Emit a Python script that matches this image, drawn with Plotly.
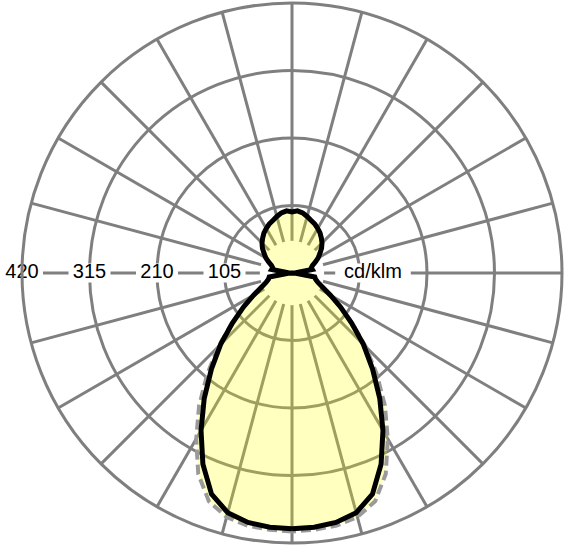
import numpy as np
import plotly.graph_objects as go

# Angles measured from nadir (0 = straight down) for one half of the curve
angles = list(range(0, 185, 5))

# C0-C180 plane (solid black), cd/klm
c0_values = [398, 397, 394, 386, 366, 328, 283, 238, 195, 157, 121, 92, 69, 53, 43, 38, 36, 6, 0,
             6, 32, 31, 34, 40, 47, 53, 60, 66, 71, 76, 80, 84, 87, 91, 95, 97, 95]

# C90-C270 plane (dashed grey), cd/klm
c90_values = [402, 401, 399, 393, 378, 345, 298, 252, 205, 162, 123, 92, 69, 53, 43, 38, 36, 6, 0,
              6, 32, 31, 34, 40, 47, 53, 60, 66, 71, 76, 80, 84, 87, 91, 95, 97, 95]

radial_ticks = [105, 210, 315, 420]
radial_labels = ["105", "210", "315", "420"]
unit_label = "cd/klm"
unit_r = 126
mask_r = 50


def full_curve(vals):
    th = angles + [360 - a for a in angles[-2::-1]]
    rr = vals + vals[-2::-1]
    return th, rr


grid_col = "#7f7f7f"
font_fam = "Liberation Sans, Arial, sans-serif"

fig = go.Figure()

# white mask near the pole (spokes start away from the centre)
mth = list(np.arange(0, 361, 5))
fig.add_trace(go.Scatterpolar(r=[mask_r] * len(mth), theta=mth, mode="lines",
                              fill="toself", fillcolor="white",
                              line=dict(color="rgba(0,0,0,0)", width=0),
                              hoverinfo="skip", showlegend=False))

th90, r90 = full_curve(c90_values)
fig.add_trace(go.Scatterpolar(r=r90, theta=th90, mode="lines", fill="toself",
                              fillcolor="rgba(255,255,0,0.25)",
                              line=dict(color="#9a9a9a", width=4, dash="10px,5px"),
                              hoverinfo="skip", showlegend=False))

th0, r0 = full_curve(c0_values)
fig.add_trace(go.Scatterpolar(r=r0, theta=th0, mode="lines",
                              line=dict(color="black", width=5),
                              hoverinfo="skip", showlegend=False))

# white boxes behind the labels (line-ew marker width is 1.4 x size)
fig.add_trace(go.Scatterpolar(r=radial_ticks, theta=[90] * len(radial_ticks), mode="markers",
                              marker=dict(symbol="line-ew", size=30,
                                          line=dict(color="white", width=19)),
                              cliponaxis=False, hoverinfo="skip", showlegend=False))
fig.add_trace(go.Scatterpolar(r=[unit_r], theta=[270], mode="markers",
                              marker=dict(symbol="line-ew", size=54,
                                          line=dict(color="white", width=19)),
                              cliponaxis=False, hoverinfo="skip", showlegend=False))

fig.add_trace(go.Scatterpolar(r=radial_ticks + [unit_r], theta=[90] * len(radial_ticks) + [270],
                              mode="text", text=radial_labels + [unit_label],
                              textposition="middle center",
                              textfont=dict(family=font_fam, size=20, color="black"),
                              cliponaxis=False, hoverinfo="skip", showlegend=False))

fig.update_layout(
    width=566, height=550,
    margin=dict(l=22, r=4, t=3, b=7),
    paper_bgcolor="white",
    showlegend=False,
    polar=dict(
        domain=dict(x=[0, 1], y=[0, 1]),
        bgcolor="white",
        radialaxis=dict(range=[0, 420], tickvals=radial_ticks[:-1], showticklabels=False,
                        ticks="", showline=False, gridcolor=grid_col, gridwidth=3),
        angularaxis=dict(rotation=270, direction="clockwise", dtick=15,
                         showticklabels=False, ticks="", showline=True,
                         linecolor=grid_col, linewidth=3,
                         gridcolor=grid_col, gridwidth=3),
    ),
)

fig.write_html("out.html", config={"displayModeBar": False},
               post_script="document.body.style.margin='0';")
